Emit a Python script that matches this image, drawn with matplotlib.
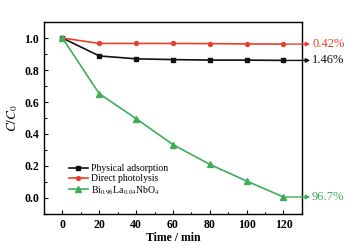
import numpy as np
import matplotlib
matplotlib.use('Agg')
import matplotlib.pyplot as plt
from matplotlib.ticker import MultipleLocator

plt.rcParams['font.family'] = ['Liberation Serif', 'DejaVu Serif']
plt.rcParams['mathtext.fontset'] = 'stix'

time = [0, 20, 40, 60, 80, 100, 120]
adsorption = [1.0, 0.888, 0.870, 0.865, 0.862, 0.862, 0.860]
photolysis = [1.0, 0.966, 0.966, 0.966, 0.965, 0.963, 0.962]
catalyst = [1.0, 0.652, 0.496, 0.334, 0.210, 0.106, 0.006]

labels = ['Physical adsorption', 'Direct photolysis',
          r'Bi$_{0.96}$La$_{0.04}$NbO$_4$']
end_text = ['1.46%', '0.42%', '96.7%']
colors = ['#111111', '#e8402a', '#3fae5a']
markers = ['s', 'o', '^']
msizes = [3.2, 2.8, 3.8]

fig = plt.figure(figsize=(3.62, 2.49), dpi=100)
ax = fig.add_axes([0.1215, 0.1406, 0.7125, 0.771])

series = [adsorption, photolysis, catalyst]
for s, lab, c, m, ms in zip(series, labels, colors, markers, msizes):
    ax.plot(time, s, color=c, marker=m, ms=ms, lw=1.2, label=lab)

# arrows and removal percentages on the right
for s, txt, c in zip(series, end_text, colors):
    ax.annotate('', xy=(134.5, s[-1]), xytext=(121, s[-1]),
                arrowprops=dict(arrowstyle='-|>', color=c, lw=1.0,
                                mutation_scale=6, shrinkA=0, shrinkB=0),
                annotation_clip=False)
    ax.text(135.5, s[-1], txt, color=c, fontsize=9, va='center', ha='left',
            clip_on=False)

ax.set_xlim(-10, 130)
ax.set_ylim(-0.1, 1.1)
ax.xaxis.set_major_locator(MultipleLocator(20))
ax.xaxis.set_minor_locator(MultipleLocator(10))
ax.yaxis.set_minor_locator(MultipleLocator(0.1))
ax.set_yticks(np.arange(0, 1.01, 0.2))
ax.set_yticklabels(['%.1f' % v for v in np.arange(0, 1.01, 0.2)])
ax.tick_params(which='both', direction='in', labelsize=8.5, width=0.8)
ax.tick_params(which='major', length=3)
ax.tick_params(which='minor', length=1.8)
for lab in ax.get_xticklabels() + ax.get_yticklabels():
    lab.set_fontweight('bold')
for sp in ax.spines.values():
    sp.set_linewidth(1.0)

ax.set_xlabel('Time / min', fontsize=8.5, fontweight='bold', labelpad=1)
ax.set_ylabel(r'$C/C_0$', fontsize=9.5, labelpad=3)

leg = ax.legend(loc='lower left', bbox_to_anchor=(0.08, 0.07), frameon=False,
                fontsize=7, handlelength=2.0, handletextpad=0.3,
                labelspacing=0.1, borderaxespad=0)

plt.savefig('out.png', dpi=100)
